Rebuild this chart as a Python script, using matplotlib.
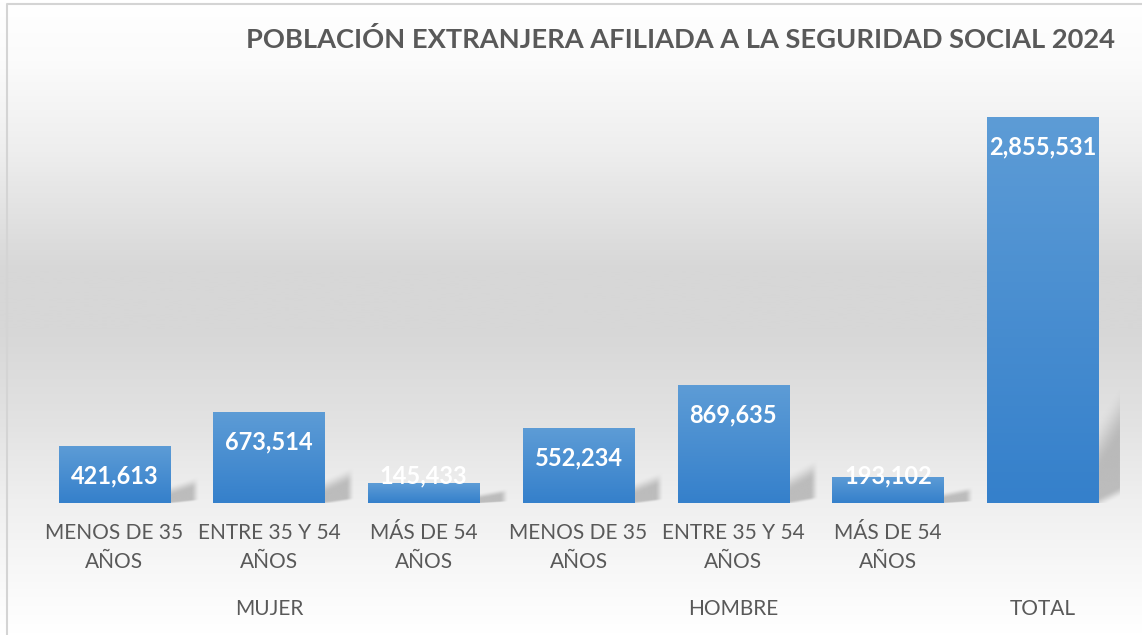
"""
Población extranjera afiliada a la Seguridad Social 2024 - bar chart.
"""

import numpy as np
import matplotlib.pyplot as plt
from matplotlib.colors import LinearSegmentedColormap, to_rgb

plt.rcParams["font.family"] = ["Lato", "DejaVu Sans"]

TITLE = "POBLACIÓN EXTRANJERA AFILIADA A LA SEGURIDAD SOCIAL 2024"
age_labels = [
    "MENOS DE 35\nAÑOS", "ENTRE 35 Y 54\nAÑOS", "MÁS DE 54\nAÑOS",
    "MENOS DE 35\nAÑOS", "ENTRE 35 Y 54\nAÑOS", "MÁS DE 54\nAÑOS",
    "",
]
groups = ["MUJER", "HOMBRE", "TOTAL"]
group_pos = [1, 4, 6]
values = [421613, 673514, 145433, 552234, 869635, 193102, 2855531]

TEXT = "#595959"
W, H = 1142, 635
YMAX = 3000000
AX_PX = 503 - 97          # axes height in pixels
PX = YMAX / AX_PX         # data units per pixel


def smooth(t):
    t = np.clip(t, 0, 1)
    return t * t * (3 - 2 * t)


fig = plt.figure(figsize=(W / 100, H / 100), dpi=100)

# background gradient
bg = fig.add_axes([0, 0, 1, 1], zorder=0)
bg.set_axis_off()
stops_px = [0, 60, 150, 270, 330, 420, 500, 600, 635]
stops_col = ["#ffffff", "#fbfbfb", "#eeeeee", "#d7d7d7", "#d7d7d7",
             "#e2e2e2", "#efefef", "#fbfbfb", "#ffffff"]
cmap_bg = LinearSegmentedColormap.from_list(
    "bg", list(zip([p / H for p in stops_px], stops_col)))
grad = np.linspace(0, 1, 400).reshape(-1, 1)
bg.imshow(grad, cmap=cmap_bg, aspect="auto", extent=[0, 1, 1, 0])
bg.set_xlim(0, 1)
bg.set_ylim(1, 0)
bg.plot([7 / W, 7 / W, 1.2], [1.2, 4 / H, 4 / H], color="#d4d4d4", lw=1.5)

ax = fig.add_axes([37 / W, (H - 503) / H, (1120 - 37) / W, AX_PX / H], zorder=1)
ax.patch.set_alpha(0)
x = np.arange(len(values))
bw = 0.72
bars = ax.bar(x, values, width=bw, color="none", edgecolor="none", zorder=3)
ax.set_axis_off()

# bar gradient fill
cmap_bar = LinearSegmentedColormap.from_list("bar", ["#3580cb", "#5d9cd6"])
for b in bars:
    x0 = b.get_x()
    h = b.get_height()
    im = ax.imshow(np.linspace(0, 1, 100).reshape(-1, 1), cmap=cmap_bar,
                   origin="lower", aspect="auto",
                   extent=[x0, x0 + bw, 0, h], zorder=3)
    im.set_clip_path(b)

# soft perspective shadow to the right of each bar
shadow_rgb = to_rgb("#9c9c9c")
ny, nx = 160, 80
uu = np.linspace(0, 1.3, nx).reshape(1, -1)
tt = np.linspace(0, 1.3, ny).reshape(-1, 1)
for b in bars:
    xr = b.get_x() + bw
    sh = 7 * PX + 0.23 * b.get_height()
    sw = 0.16
    top = 0.6 + 0.4 * uu
    bot = 0.13 * uu
    a = smooth((top - tt) / 0.55 + 0.5) * smooth((tt - bot) / 0.12 + 0.5)
    a *= smooth((1.0 - uu) / 0.35 + 0.5)
    rgba = np.zeros((ny, nx, 4))
    rgba[..., :3] = shadow_rgb
    rgba[..., 3] = a * 0.6
    ax.imshow(rgba, origin="lower", aspect="auto", interpolation="bilinear",
              extent=[xr, xr + sw * 1.3, 0, sh * 1.3], zorder=2)

ax.set_xlim(-0.5, len(values) - 0.5)
ax.set_ylim(0, YMAX)

# value labels inside bar tops (kept above the baseline for short bars)
for xi, v in zip(x, values):
    ly = max(v - 30 * PX, 27 * PX)
    ax.text(xi, ly, f"{v:,}", ha="center", va="center", color="white",
            fontsize=17, fontweight="bold", zorder=5)

# category labels
for xi, lab in zip(x, age_labels):
    for k, line in enumerate(lab.split("\n")):
        if not line:
            continue
        ax.annotate(line, (xi, 0), xycoords=("data", "axes fraction"),
                    xytext=(0, -21.6 - k * 20.9), textcoords="offset points",
                    ha="center", va="center", color=TEXT, fontsize=15,
                    annotation_clip=False)

for gp, g in zip(group_pos, groups):
    ax.annotate(g, (gp, 0), xycoords=("data", "axes fraction"),
                xytext=(0, -76.3), textcoords="offset points",
                ha="center", va="center", color=TEXT, fontsize=15,
                annotation_clip=False)

fig.text(1115 / W, 1 - 40 / H, TITLE, ha="right", va="center",
         fontsize=19.6, fontweight="bold", color=TEXT)

fig.savefig("out.png", dpi=100)
